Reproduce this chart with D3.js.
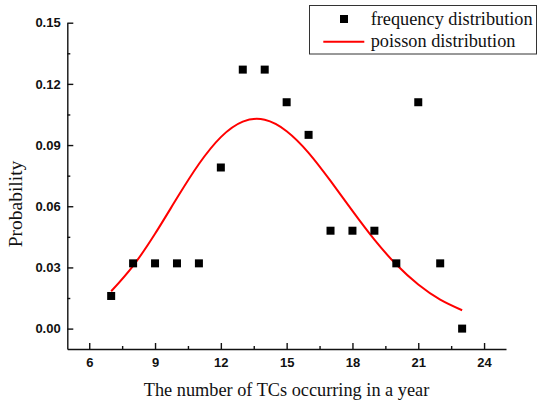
<!DOCTYPE html>
<html>
<head>
<meta charset="utf-8">
<script src="https://cdn.jsdelivr.net/npm/d3@7"></script>
<style>
    body { margin: 0; background: #fff; }
    .tick text { font-family: "Liberation Sans", Arial, sans-serif; font-weight: bold; font-size: 13px; fill: #111; }
    .axis path, .axis line { stroke: #111; stroke-width: 1.4; }
    .title { font-family: "Liberation Serif", "Times New Roman", serif; font-size: 18.3px; fill: #111; }
</style>
</head>
<body>
<div id="chart"></div>
<script>
var years = [7, 8, 9, 10, 11, 12, 13, 14, 15, 16, 17, 18, 19, 20, 21, 22, 23];
var frequency = [0.016, 0.032, 0.032, 0.032, 0.032, 0.079, 0.127, 0.127, 0.111, 0.095, 0.048, 0.048, 0.048, 0.032, 0.111, 0.032, 0.000];
var poisson = [0.0183, 0.0308, 0.0465, 0.0640, 0.0807, 0.0939, 0.1015, 0.1024, 0.0968, 0.0862, 0.0724, 0.0577, 0.0436, 0.0314, 0.0216, 0.0142, 0.0090];
var xTicks = [6, 9, 12, 15, 18, 21, 24];
var yTicks = [0.00, 0.03, 0.06, 0.09, 0.12, 0.15];
var legendLabels = ["frequency distribution", "poisson distribution"];

var w = 541, h = 406;
var margin = { left: 67.3, right: 506, top: 22.7, bottom: 349 };

var svg = d3.select("#chart").append("svg").attr("width", w).attr("height", h);

var scale_x = d3.scaleLinear().domain([5, 25]).range([margin.left, margin.right]);
var scale_y = d3.scaleLinear().domain([-0.01, 0.15]).range([margin.bottom, margin.top]);

// minor ticks first
svg.append("g").attr("class", "axis")
    .attr("transform", "translate(0," + margin.bottom + ")")
    .call(d3.axisBottom(scale_x).tickValues(d3.range(7.5, 25, 3)).tickSize(-3).tickSizeOuter(0).tickFormat(""))
    .select(".domain").remove();
svg.append("g").attr("class", "axis")
    .attr("transform", "translate(" + margin.left + ",0)")
    .call(d3.axisLeft(scale_y).tickValues(d3.range(0.015, 0.15, 0.03)).tickSize(-3).tickSizeOuter(0).tickFormat(""))
    .select(".domain").remove();

var xAxis = d3.axisBottom(scale_x).tickValues(xTicks).tickSize(-6).tickSizeOuter(0).tickPadding(8.3).tickFormat(d3.format("d"));
svg.append("g").attr("class", "axis x")
    .attr("transform", "translate(0," + margin.bottom + ")")
    .call(xAxis);

var yAxis = d3.axisLeft(scale_y).tickValues(yTicks).tickSize(-6).tickSizeOuter(0).tickPadding(6.6).tickFormat(d3.format(".2f"));
svg.append("g").attr("class", "axis y")
    .attr("transform", "translate(" + margin.left + ",0)")
    .call(yAxis);

// axis titles
svg.append("text").attr("class", "title")
    .attr("x", 286.5).attr("y", 396)
    .attr("text-anchor", "middle")
    .text("The number of TCs occurring in a year");
svg.append("text").attr("class", "title")
    .attr("transform", "translate(22," + 204 + ") rotate(-90)")
    .attr("text-anchor", "middle")
    .style("font-size", "19.5px")
    .text("Probability");

// poisson curve
var line = d3.line()
    .x(function (d, i) { return scale_x(years[i]); })
    .y(function (d) { return scale_y(d); })
    .curve(d3.curveNatural);
svg.append("path")
    .attr("d", line(poisson))
    .attr("fill", "none")
    .attr("stroke", "#ff0000")
    .attr("stroke-width", 2);

// frequency points
var sq = 8;
svg.append("g").selectAll("rect")
    .data(frequency).enter().append("rect")
    .attr("x", function (d, i) { return scale_x(years[i]) - sq / 2; })
    .attr("y", function (d) { return scale_y(d) - sq / 2; })
    .attr("width", sq).attr("height", sq)
    .attr("fill", "#000");

// legend
var lg = svg.append("g");
lg.append("rect")
    .attr("x", 309.5).attr("y", 5.5).attr("width", 227).attr("height", 48.5)
    .attr("fill", "#fff").attr("stroke", "#333").attr("stroke-width", 1);
lg.append("rect")
    .attr("x", 344 - sq / 2).attr("y", 19 - sq / 2).attr("width", sq).attr("height", sq)
    .attr("fill", "#000");
lg.append("line")
    .attr("x1", 323.3).attr("x2", 364.3).attr("y1", 41.7).attr("y2", 41.7)
    .attr("stroke", "#ff0000").attr("stroke-width", 2);
lg.selectAll("text.leg")
    .data(legendLabels).enter().append("text")
    .attr("class", "title leg")
    .attr("x", 370.7)
    .attr("y", function (d, i) { return i == 0 ? 25 : 47; })
    .text(function (d) { return d; });
</script>
</body>
</html>
